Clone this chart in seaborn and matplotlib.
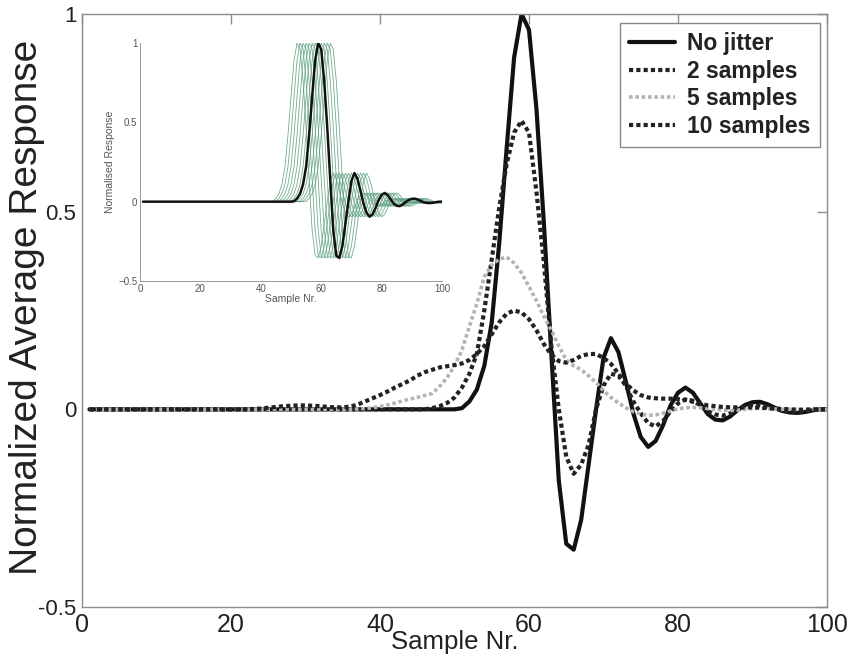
import pandas as pd
import matplotlib
matplotlib.use('Agg')
import matplotlib.pyplot as plt
import seaborn as sns


# samples 1..100
samples = list(range(1, 101))

no_jitter = [
    0, 0, 0, 0, 0, 0, 0, 0, 0, 0,
    0, 0, 0, 0, 0, 0, 0, 0, 0, 0,
    0, 0, 0, 0, 0, 0, 0, 0, 0, 0,
    0, 0, 0, 0, 0, 0, 0, 0, 0, 0,
    0, 0, 0, 0, 0, 0, 0, 0, 0, 0,
    0.003, 0.02, 0.05, 0.11, 0.22, 0.42, 0.66, 0.89, 1.0, 0.96,
    0.76, 0.47, 0.14, -0.18, -0.34, -0.355, -0.28, -0.14, 0.0, 0.13,
    0.18, 0.145, 0.07, -0.01, -0.07, -0.095, -0.08, -0.04, 0.01, 0.042,
    0.055, 0.042, 0.015, -0.012, -0.026, -0.028, -0.018, -0.002, 0.011, 0.018,
    0.019, 0.013, 0.004, -0.004, -0.008, -0.009, -0.007, -0.003, 0.0, 0.0,
]

jitter_2 = [
    0, 0, 0, 0, 0, 0, 0, 0, 0, 0,
    0, 0, 0, 0, 0, 0, 0, 0, 0, 0,
    0, 0, 0, 0, 0, 0, 0, 0, 0, 0,
    0, 0, 0, 0, 0, 0, 0, 0, 0, 0,
    0, 0, 0, 0, 0, 0, 0.003, 0.008, 0.016, 0.03,
    0.055, 0.09, 0.14, 0.25, 0.38, 0.51, 0.62, 0.70, 0.73, 0.70,
    0.55, 0.37, 0.16, 0.0, -0.12, -0.163, -0.14, -0.09, 0.0, 0.06,
    0.09, 0.085, 0.06, 0.02, -0.01, -0.035, -0.043, -0.03, -0.005, 0.015,
    0.025, 0.022, 0.01, -0.005, -0.013, -0.016, -0.01, 0.0, 0.007, 0.01,
    0.01, 0.006, 0.001, -0.003, -0.005, -0.005, -0.003, -0.001, 0.0, 0.0,
]

jitter_5 = [
    0, 0, 0, 0, 0, 0, 0, 0, 0, 0,
    0, 0, 0, 0, 0, 0, 0, 0, 0, 0,
    0, 0, 0, 0, 0, 0, 0, 0, 0, 0,
    0, 0, 0, 0, 0, 0, 0.001, 0.002, 0.004, 0.007,
    0.011, 0.016, 0.021, 0.026, 0.03, 0.035, 0.04, 0.058, 0.08, 0.11,
    0.15, 0.21, 0.267, 0.335, 0.365, 0.38, 0.385, 0.37, 0.345, 0.31,
    0.275, 0.235, 0.2, 0.16, 0.125, 0.11, 0.1, 0.085, 0.068, 0.047,
    0.03, 0.016, 0.004, -0.006, -0.012, -0.015, -0.014, -0.01, -0.004, 0.001,
    0.004, 0.005, 0.004, 0.002, 0.0, -0.002, -0.003, -0.002, 0.0, 0.002,
    0.003, 0.002, 0.001, 0, 0, 0, 0, 0, 0, 0,
]

jitter_10 = [
    0, 0, 0, 0, 0, 0, 0, 0, 0, 0,
    0, 0, 0, 0, 0, 0, 0, 0, 0, 0,
    0, 0, 0.001, 0.002, 0.004, 0.006, 0.008, 0.009, 0.01, 0.01,
    0.009, 0.008, 0.006, 0.005, 0.005, 0.007, 0.012, 0.02, 0.028, 0.036,
    0.045, 0.055, 0.064, 0.073, 0.085, 0.094, 0.1, 0.106, 0.109, 0.112,
    0.116, 0.125, 0.14, 0.16, 0.19, 0.22, 0.242, 0.25, 0.245, 0.228,
    0.2, 0.165, 0.138, 0.122, 0.118, 0.125, 0.135, 0.14, 0.14, 0.13,
    0.115, 0.09, 0.065, 0.048, 0.036, 0.03, 0.028, 0.027, 0.027, 0.026,
    0.024, 0.019, 0.014, 0.01, 0.008, 0.006, 0.005, 0.005, 0.005, 0.005,
    0.004, 0.003, 0.002, 0.001, 0.0, -0.001, -0.001, 0, 0, 0,
]

# jitter offsets (in samples) of the copies shown in the inset
inset_shifts = [-7, -6, -5, -4, -3, -2, -1, 0, 1, 2, 3, 4]

x_ticks = [0, 20, 40, 60, 80, 100]
y_ticks = [-0.5, 0, 0.5, 1]
y_ticklabels = ['-0.5', '0', '0.5', '1']
inset_y_ticklabels = ['\u22120.5', '0', '0.5', '1']

sns.set_theme(style='white')
plt.rcParams['font.family'] = ['Liberation Sans', 'DejaVu Sans']

W, H = 851, 661
fig = plt.figure(figsize=(W / 100, H / 100), dpi=100)
ax = fig.add_axes([82 / W, 1 - 607 / H, 745 / W, 593 / H])

dots = (0, (1, 0.75))
series = [
    ('No jitter', no_jitter, '#111111', '-', 3.0),
    ('2 samples', jitter_2, '#222222', dots, 3.0),
    ('5 samples', jitter_5, '#b4b4b4', dots, 2.6),
    ('10 samples', jitter_10, '#222222', dots, 3.0),
]
for name, values, color, ls, lw in series:
    sns.lineplot(x=samples, y=values, ax=ax, color=color, linestyle=ls,
                 lw=lw, label=name)

ax.set_xlim(0, 100)
ax.set_ylim(-0.5, 1)
ax.set_xticks(x_ticks)
ax.set_yticks(y_ticks)
ax.set_yticklabels(y_ticklabels)
ax.tick_params(direction='in', length=7, width=1, color='#8c8c8c',
               top=True, right=True, labelcolor='#222222')
ax.tick_params(axis='x', pad=4, labelsize=18)
ax.tick_params(axis='y', pad=4, labelsize=16)
for sp in ax.spines.values():
    sp.set_color('#8c8c8c')
    sp.set_linewidth(1.0)

ax.set_xlabel('Sample Nr.', fontsize=18.5, color='#222222')
ax.xaxis.set_label_coords(0.5, -0.038)
ax.set_ylabel('Normalized Average Response', fontsize=28, color='#222222')
ax.yaxis.set_label_coords(-0.050, 0.505)

leg = ax.legend(loc='upper right', bbox_to_anchor=(0.9906, 0.985),
                borderaxespad=0, fancybox=False, framealpha=1,
                prop={'weight': 'bold', 'size': 16.5}, handlelength=2.0,
                handletextpad=0.55, labelspacing=0.2, borderpad=0.4)
leg.get_frame().set_edgecolor('#888888')
leg.get_frame().set_linewidth(1.0)
for t in leg.get_texts():
    t.set_color('#222222')

# inset: the single response and its jittered copies
iax = fig.add_axes([140 / W, 1 - 281 / H, 302 / W, 238 / H])
iax.set_facecolor('white')
base = pd.Series(no_jitter)
for k in inset_shifts:
    sns.lineplot(x=samples, y=base.shift(k, fill_value=0.0).tolist(), ax=iax,
                 color='#5a9e7a', lw=0.6, alpha=0.85)
sns.lineplot(x=samples, y=no_jitter, ax=iax, color='#111111', lw=1.8)

iax.set_xlim(0, 100)
iax.set_ylim(-0.5, 1)
iax.set_xticks(x_ticks)
iax.set_yticks(y_ticks)
iax.set_yticklabels(inset_y_ticklabels)
iax.tick_params(direction='in', length=3, width=0.6, color='#999999',
                labelsize=7, labelcolor='#555555', pad=2)
iax.spines['top'].set_visible(False)
iax.spines['right'].set_visible(False)
for side in ['left', 'bottom']:
    iax.spines[side].set_color('#999999')
    iax.spines[side].set_linewidth(0.7)
iax.set_xlabel('Sample Nr.', fontsize=7.5, color='#555555', labelpad=0)
iax.set_ylabel('Normalised Response', fontsize=7.5, color='#555555', labelpad=2)

fig.savefig('out.png', dpi=100)
